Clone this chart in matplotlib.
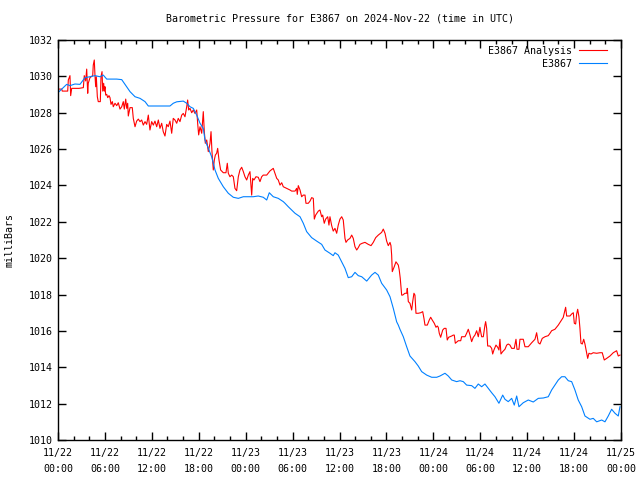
import matplotlib
matplotlib.use("Agg")
import matplotlib.pyplot as plt
import matplotlib.dates as mdates
from datetime import datetime, timedelta

title = "Barometric Pressure for E3867 on 2024-Nov-22 (time in UTC)"
ylabel = "milliBars"
start = datetime(2024, 11, 22)
series_names = ["E3867 Analysis", "E3867"]

# Analysis (red): hours since start, pressure (mb)
analysis_hours = [
    0.04, 0.47, 0.55, 1.24, 1.32, 1.53, 1.62, 1.75, 2.69, 3.24, 3.36, 3.54, 3.67, 3.80, 3.87, 4.09,
    4.44, 4.51, 4.64, 4.73, 4.82, 4.90, 5.03, 5.15, 5.28, 5.41, 5.50, 5.63, 5.72, 5.84, 5.92, 6.01,
    6.10, 6.23, 6.36, 6.52, 6.65, 6.78, 6.95, 7.07, 7.29, 7.51, 7.71, 7.93, 8.15, 8.35, 8.48, 8.66,
    8.79, 8.91, 8.99, 9.21, 9.50, 9.63, 9.85, 10.06, 10.27, 10.49, 10.70, 10.91, 11.13, 11.34, 11.55,
    11.76, 11.98, 12.19, 12.40, 12.62, 12.83, 13.04, 13.26, 13.46, 13.68, 13.90, 14.10, 14.32, 14.54,
    14.74, 14.96, 15.18, 15.38, 15.60, 15.82, 16.02, 16.24, 16.46, 16.58, 16.71, 16.88, 17.10, 17.30,
    17.52, 17.74, 17.86, 17.99, 18.16, 18.38, 18.58, 18.71, 18.84, 19.02, 19.22, 19.44, 19.57, 19.69,
    19.86, 19.99, 20.12, 20.29, 20.42, 20.59, 20.80, 21.14, 21.48, 21.65, 21.78, 21.99, 22.21, 22.42,
    22.63, 22.85, 23.06, 23.27, 23.49, 23.70, 23.91, 24.13, 24.34, 24.55, 24.77, 24.90, 25.06, 25.32,
    25.61, 25.83, 26.05, 26.25, 26.69, 27.11, 27.53, 27.75, 27.97, 28.17, 28.39, 28.61, 28.81, 29.25,
    29.67, 29.88, 30.31, 30.52, 30.60, 30.73, 30.95, 31.16, 31.37, 31.59, 31.71, 32.01, 32.23, 32.44,
    32.65, 32.78, 32.95, 33.29, 33.50, 33.72, 33.85, 34.05, 34.23, 34.49, 34.65, 34.78, 35.00, 35.20,
    35.42, 35.64, 35.84, 36.06, 36.28, 36.48, 36.70, 36.83, 37.04, 37.34, 37.56, 37.76, 37.98, 38.20,
    38.40, 38.62, 38.91, 39.26, 39.68, 40.03, 40.32, 40.63, 40.96, 41.39, 41.60, 41.82, 42.03, 42.24,
    42.46, 42.58, 42.67, 42.75, 43.00, 43.22, 43.52, 43.64, 43.77, 43.95, 44.08, 44.37, 44.59, 44.67,
    44.80, 45.01, 45.23, 45.36, 45.52, 45.65, 45.78, 46.07, 46.38, 46.64, 46.80, 46.93, 47.23, 47.48,
    47.66, 47.86, 48.12, 48.34, 48.50, 48.63, 48.76, 48.94, 49.20, 49.40, 49.62, 49.78, 49.96, 50.13,
    50.35, 50.55, 50.68, 50.81, 51.19, 51.50, 51.62, 52.05, 52.26, 52.47, 52.69, 52.90, 53.11, 53.32,
    53.54, 53.75, 53.96, 54.05, 54.18, 54.39, 54.60, 54.69, 54.82, 54.95, 55.24, 55.46, 55.59, 55.75,
    56.01, 56.23, 56.39, 56.52, 56.65, 56.87, 57.16, 57.38, 57.58, 57.80, 58.02, 58.35, 58.57, 58.70,
    58.95, 59.08, 59.50, 59.72, 60.14, 60.58, 61.00, 61.21, 61.42, 61.64, 61.93, 62.28, 62.70, 62.92,
    63.13, 63.55, 63.98, 64.41, 64.61, 64.74, 64.92, 65.05, 65.47, 65.69, 65.90, 66.03, 66.20, 66.33,
    66.46, 66.62, 66.75, 66.88, 67.05, 67.23, 67.39, 67.61, 67.74, 67.90, 68.16, 68.45, 68.89, 69.31,
    69.60, 69.86, 70.17, 70.59, 71.01, 71.44, 71.65, 71.87,
]
analysis_mb = [
    1029.30, 1029.30, 1029.19, 1029.19, 1029.80, 1030.04, 1028.94, 1029.34, 1029.34, 1029.38, 1030.04,
    1029.75, 1030.40, 1029.07, 1029.62, 1029.93, 1030.04, 1030.62, 1030.90, 1030.04, 1029.43, 1029.98,
    1028.88, 1028.61, 1028.61, 1028.61, 1029.98, 1030.26, 1029.19, 1029.62, 1029.19, 1029.43, 1028.97,
    1029.01, 1028.83, 1028.94, 1028.83, 1028.46, 1028.61, 1028.33, 1028.52, 1028.39, 1028.55, 1028.20,
    1028.33, 1028.61, 1028.20, 1028.75, 1028.24, 1028.52, 1027.82, 1028.28, 1028.28, 1027.69, 1027.23,
    1027.54, 1027.65, 1027.51, 1027.60, 1027.32, 1027.51, 1027.36, 1027.87, 1027.05, 1027.51, 1027.32,
    1027.54, 1027.23, 1027.60, 1027.14, 1027.42, 1026.96, 1026.72, 1027.36, 1027.23, 1027.54, 1026.87,
    1027.69, 1027.60, 1027.42, 1027.69, 1027.51, 1027.87, 1027.96, 1027.78, 1028.33, 1028.70, 1028.15,
    1028.24, 1028.00, 1028.15, 1027.96, 1028.15, 1027.42, 1026.78, 1027.23, 1026.87, 1028.06, 1026.96,
    1026.32, 1026.50, 1025.86, 1026.32, 1026.96, 1025.86, 1024.85, 1025.40, 1025.67, 1025.77, 1026.04,
    1025.40, 1024.85, 1024.70, 1024.70, 1025.22, 1024.67, 1024.48, 1024.57, 1024.48, 1023.84, 1023.71,
    1024.48, 1024.85, 1025.00, 1024.76, 1024.48, 1024.30, 1024.57, 1024.76, 1023.47, 1024.39, 1024.30,
    1024.48, 1024.45, 1024.21, 1024.48, 1024.57, 1024.57, 1024.80, 1024.94, 1024.67, 1024.39, 1024.30,
    1024.02, 1024.15, 1023.93, 1023.84, 1023.75, 1023.69, 1023.69, 1023.84, 1023.51, 1023.99, 1023.75,
    1023.38, 1023.47, 1023.47, 1023.02, 1023.02, 1023.14, 1023.33, 1023.29, 1022.15, 1022.37, 1022.59,
    1022.65, 1022.28, 1022.37, 1021.92, 1022.15, 1022.28, 1021.82, 1022.28, 1021.79, 1021.49, 1021.64,
    1021.37, 1021.82, 1022.15, 1022.28, 1022.10, 1021.09, 1020.87, 1021.00, 1021.09, 1021.27, 1021.09,
    1020.63, 1020.45, 1020.58, 1020.76, 1020.82, 1020.87, 1020.76, 1020.69, 1020.87, 1021.13, 1021.27,
    1021.42, 1021.60, 1021.37, 1020.94, 1020.69, 1020.87, 1020.69, 1020.17, 1019.26, 1019.53, 1019.80,
    1019.62, 1019.35, 1018.89, 1017.97, 1017.97, 1018.07, 1018.07, 1018.34, 1017.61, 1017.52, 1017.15,
    1017.61, 1018.07, 1017.97, 1016.97, 1016.97, 1017.00, 1017.06, 1016.69, 1016.32, 1016.32, 1016.60,
    1016.75, 1016.60, 1016.42, 1016.20, 1016.27, 1016.20, 1015.87, 1015.65, 1016.05, 1016.14, 1016.14,
    1015.50, 1015.65, 1015.68, 1015.72, 1015.77, 1015.77, 1015.32, 1015.46, 1015.46, 1015.68, 1015.68,
    1015.87, 1016.09, 1015.77, 1015.41, 1015.65, 1015.77, 1016.01, 1015.68, 1016.20, 1015.96, 1015.68,
    1015.68, 1016.32, 1016.51, 1016.14, 1015.17, 1015.17, 1015.04, 1014.73, 1014.95, 1015.22, 1015.10,
    1014.95, 1015.54, 1014.73, 1014.86, 1014.99, 1015.22, 1015.28, 1015.22, 1015.04, 1015.04, 1015.54,
    1014.99, 1014.99, 1015.54, 1015.54, 1015.13, 1015.13, 1015.35, 1015.54, 1015.90, 1015.35, 1015.28,
    1015.59, 1015.68, 1015.74, 1015.87, 1016.01, 1016.09, 1016.32, 1016.60, 1016.74, 1016.97, 1017.30,
    1016.82, 1016.82, 1016.93, 1017.00, 1016.42, 1016.38, 1016.93, 1017.19, 1016.78, 1016.14, 1015.32,
    1015.28, 1015.54, 1015.28, 1014.77, 1014.49, 1014.77, 1014.73, 1014.80, 1014.77, 1014.80, 1014.80,
    1014.40, 1014.49, 1014.62, 1014.80, 1014.91, 1014.62, 1014.67,
]

# Station (blue): hours since start, pressure (mb)
station_hours = [
    0.04, 0.47, 1.11, 1.53, 2.17, 2.81, 3.45, 4.09, 4.73, 5.37, 5.79, 6.23, 7.51, 8.15, 8.57, 9.21,
    9.85, 10.49, 11.13, 11.55, 14.32, 14.74, 15.18, 16.02, 16.46, 16.88, 17.30, 17.74, 18.16, 18.58,
    18.80, 19.22, 19.65, 20.08, 20.50, 21.14, 21.78, 22.42, 23.06, 23.70, 24.97, 25.61, 26.25, 26.69,
    27.02, 27.53, 28.17, 28.81, 29.03, 29.45, 29.67, 30.31, 30.95, 31.37, 31.80, 32.44, 33.08, 33.72,
    34.14, 34.78, 35.20, 35.42, 35.84, 36.28, 36.70, 37.12, 37.56, 37.98, 38.40, 38.84, 39.48, 40.11,
    40.54, 40.96, 41.39, 42.03, 42.46, 42.88, 43.31, 43.52, 43.73, 44.16, 44.59, 45.01, 45.65, 46.07,
    46.51, 47.15, 47.79, 48.43, 48.85, 49.49, 49.91, 50.35, 50.98, 51.41, 51.83, 52.26, 52.90, 53.32,
    53.75, 54.18, 54.60, 55.03, 55.46, 55.88, 56.39, 56.87, 57.16, 57.58, 58.02, 58.35, 58.66, 58.95,
    59.50, 60.14, 60.78, 61.42, 62.06, 62.70, 63.13, 63.55, 63.98, 64.41, 64.83, 65.26, 65.69, 66.11,
    66.53, 66.97, 67.39, 68.03, 68.45, 68.89, 69.53, 69.95, 70.37, 70.80, 71.23, 71.65, 71.87,
]
station_mb = [
    1029.12, 1029.30, 1029.56, 1029.49, 1029.58, 1029.56, 1029.93, 1029.98, 1030.04, 1029.98, 1030.07,
    1029.85, 1029.85, 1029.82, 1029.56, 1029.16, 1028.88, 1028.79, 1028.61, 1028.37, 1028.37, 1028.52,
    1028.60, 1028.64, 1028.52, 1028.33, 1028.24, 1027.87, 1027.42, 1027.14, 1026.50, 1026.04, 1025.58,
    1024.85, 1024.39, 1023.93, 1023.57, 1023.35, 1023.29, 1023.38, 1023.38, 1023.42, 1023.35, 1023.20,
    1023.60, 1023.38, 1023.29, 1023.11, 1023.02, 1022.83, 1022.74, 1022.47, 1022.28, 1021.92, 1021.46,
    1021.13, 1020.94, 1020.76, 1020.45, 1020.27, 1020.14, 1020.30, 1020.17, 1019.80, 1019.44, 1018.93,
    1018.98, 1019.22, 1019.04, 1018.98, 1018.74, 1019.07, 1019.22, 1019.07, 1018.62, 1018.25, 1017.88,
    1017.24, 1016.50, 1016.32, 1016.09, 1015.68, 1015.13, 1014.62, 1014.31, 1014.07, 1013.76, 1013.57,
    1013.45, 1013.45, 1013.52, 1013.67, 1013.52, 1013.30, 1013.21, 1013.26, 1013.21, 1013.02, 1012.99,
    1012.84, 1013.08, 1012.93, 1013.08, 1012.84, 1012.60, 1012.38, 1012.02, 1012.47, 1012.24, 1012.11,
    1012.29, 1011.92, 1012.42, 1011.83, 1012.05, 1012.20, 1012.09, 1012.29, 1012.31, 1012.38, 1012.75,
    1013.02, 1013.30, 1013.48, 1013.48, 1013.26, 1013.21, 1012.75, 1012.20, 1011.83, 1011.32, 1011.14,
    1011.19, 1011.00, 1011.10, 1011.00, 1011.32, 1011.69, 1011.47, 1011.32, 1011.83,
]

y_min, y_max, y_step = 1010, 1032, 2

FONT = "DejaVu Sans Mono"
FS = 7.2
plt.rcParams["font.family"] = FONT

fig = plt.figure(figsize=(6.4, 4.8), dpi=100)
ax = fig.add_axes([58 / 640, 40 / 480, 563 / 640, 400 / 480])

t_a = [start + timedelta(hours=h) for h in analysis_hours]
t_s = [start + timedelta(hours=h) for h in station_hours]
ax.plot(t_a, analysis_mb, color="#ff0000", lw=0.8, label=series_names[0])
ax.plot(t_s, station_mb, color="#0080ff", lw=0.8, label=series_names[1])

ax.set_xlim(start, start + timedelta(hours=72))
ax.set_ylim(y_min, y_max)
ax.set_yticks(range(y_min, y_max + 1, y_step))

ax.xaxis.set_major_locator(mdates.HourLocator(byhour=[0, 6, 12, 18]))
ax.xaxis.set_minor_locator(mdates.HourLocator(byhour=range(0, 24, 2)))
ax.xaxis.set_major_formatter(mdates.DateFormatter("%m/%d\n%H:%M"))

ax.tick_params(which="both", direction="in", top=True, right=True, labelsize=FS, colors="black")
ax.tick_params(which="major", length=6, width=1)
ax.tick_params(which="minor", length=3, width=1)
ax.tick_params(axis="x", pad=6)
ax.tick_params(axis="y", pad=4)
for lab in ax.get_xticklabels():
    lab.set_linespacing(1.65)
for s in ax.spines.values():
    s.set_linewidth(1.0)

ax.set_title(title, fontsize=FS, pad=13)
fig.text(10 / 640, 0.5, ylabel, rotation=90, ha="center", va="center", fontsize=FS)

leg = ax.legend(loc="upper right", frameon=False, markerfirst=False, fontsize=FS,
                handlelength=2.8, handletextpad=0.7, labelspacing=0.3,
                borderaxespad=0.2, bbox_to_anchor=(0.985, 1.0))
for t in leg.get_texts():
    t.set_ha("right")

fig.savefig("out.png", dpi=100)
